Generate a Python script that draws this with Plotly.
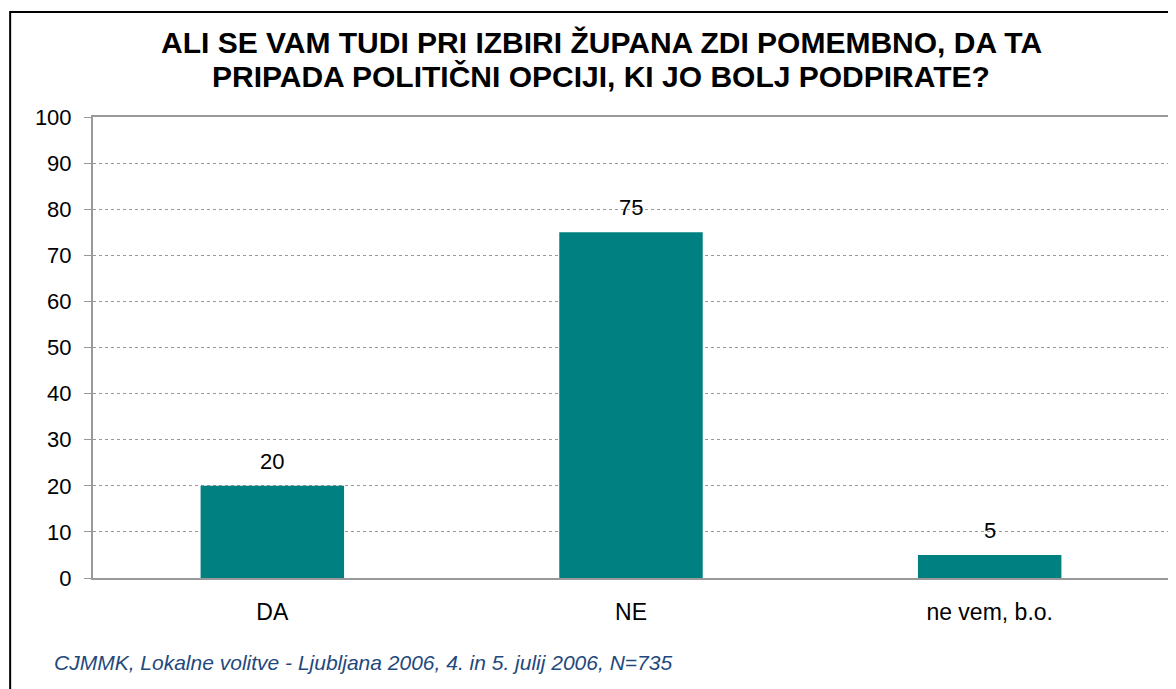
import plotly.graph_objects as go

categories = ["DA", "NE", "ne vem, b.o."]
values = [20, 75, 5]
y_ticks = list(range(0, 101, 10))

title_lines = ["ALI SE VAM TUDI PRI IZBIRI ŽUPANA ZDI POMEMBNO, DA TA",
               "PRIPADA POLITIČNI OPCIJI, KI JO BOLJ PODPIRATE?"]
footer_text = "CJMMK, Lokalne volitve - Ljubljana 2006, 4. in 5. julij 2006, N=735"

FONT = "Liberation Sans, Arial"
O = 8  # page body margin offset
W, H = 1176 - O, 689 - O
L, T = 93 - O, 117 - O
R = W - (1171 - O)
B = H - (578 - O)
pw, ph = W - L - R, H - T - B

def px_x(px):
    return (px - O - L) / pw

def px_y(py):
    return 1 - (py - O - T) / ph

fig = go.Figure()
fig.add_trace(go.Bar(
    x=categories, y=values,
    marker=dict(color="#008080", line=dict(width=0)),
    hoverinfo="x+y",
))

fig.update_layout(
    width=W, height=H,
    margin=dict(l=L, r=R, t=T, b=B),
    paper_bgcolor="white", plot_bgcolor="white",
    bargap=0.6,
    showlegend=False,
    font=dict(family=FONT, color="black"),
    xaxis=dict(showline=True, linecolor="#999999", linewidth=2, mirror=True,
               showgrid=False, ticks="", tickfont=dict(size=23),
               ticklabelstandoff=12),
    yaxis=dict(range=[0, 100], tickvals=y_ticks, showline=True, linecolor="#999999",
               linewidth=2, mirror=True, showgrid=True, gridcolor="#999999",
               griddash="dot", gridwidth=1, ticks="outside", ticklen=7,
               tickcolor="#999999", tickfont=dict(size=22), zeroline=False,
               ticklabelstandoff=8),
    shapes=[dict(type="rect", xref="paper", yref="paper",
                 x0=px_x(10), x1=px_x(1190), y0=px_y(700), y1=px_y(12),
                 line=dict(color="black", width=2), fillcolor="rgba(0,0,0,0)",
                 layer="below")],
)

for line, ypx in zip(title_lines, [42, 76]):
    fig.add_annotation(text="<b>" + line + "</b>", xref="paper", yref="paper",
                       x=px_x(602), y=px_y(ypx), xanchor="center", yanchor="middle",
                       showarrow=False,
                       font=dict(family=FONT, size=30, color="black"))

for c, v in zip(categories, values):
    fig.add_annotation(x=c, y=v, text=str(v), showarrow=False,
                       xanchor="center", yanchor="bottom", yshift=10,
                       font=dict(family=FONT, size=22, color="black"))

fig.add_annotation(text=footer_text, xref="paper", yref="paper",
                   x=px_x(52), y=px_y(662), xanchor="left", yanchor="middle",
                   showarrow=False,
                   font=dict(family=FONT, size=21, color="#1F497D", style="italic"))

fig.write_html("out.html")
